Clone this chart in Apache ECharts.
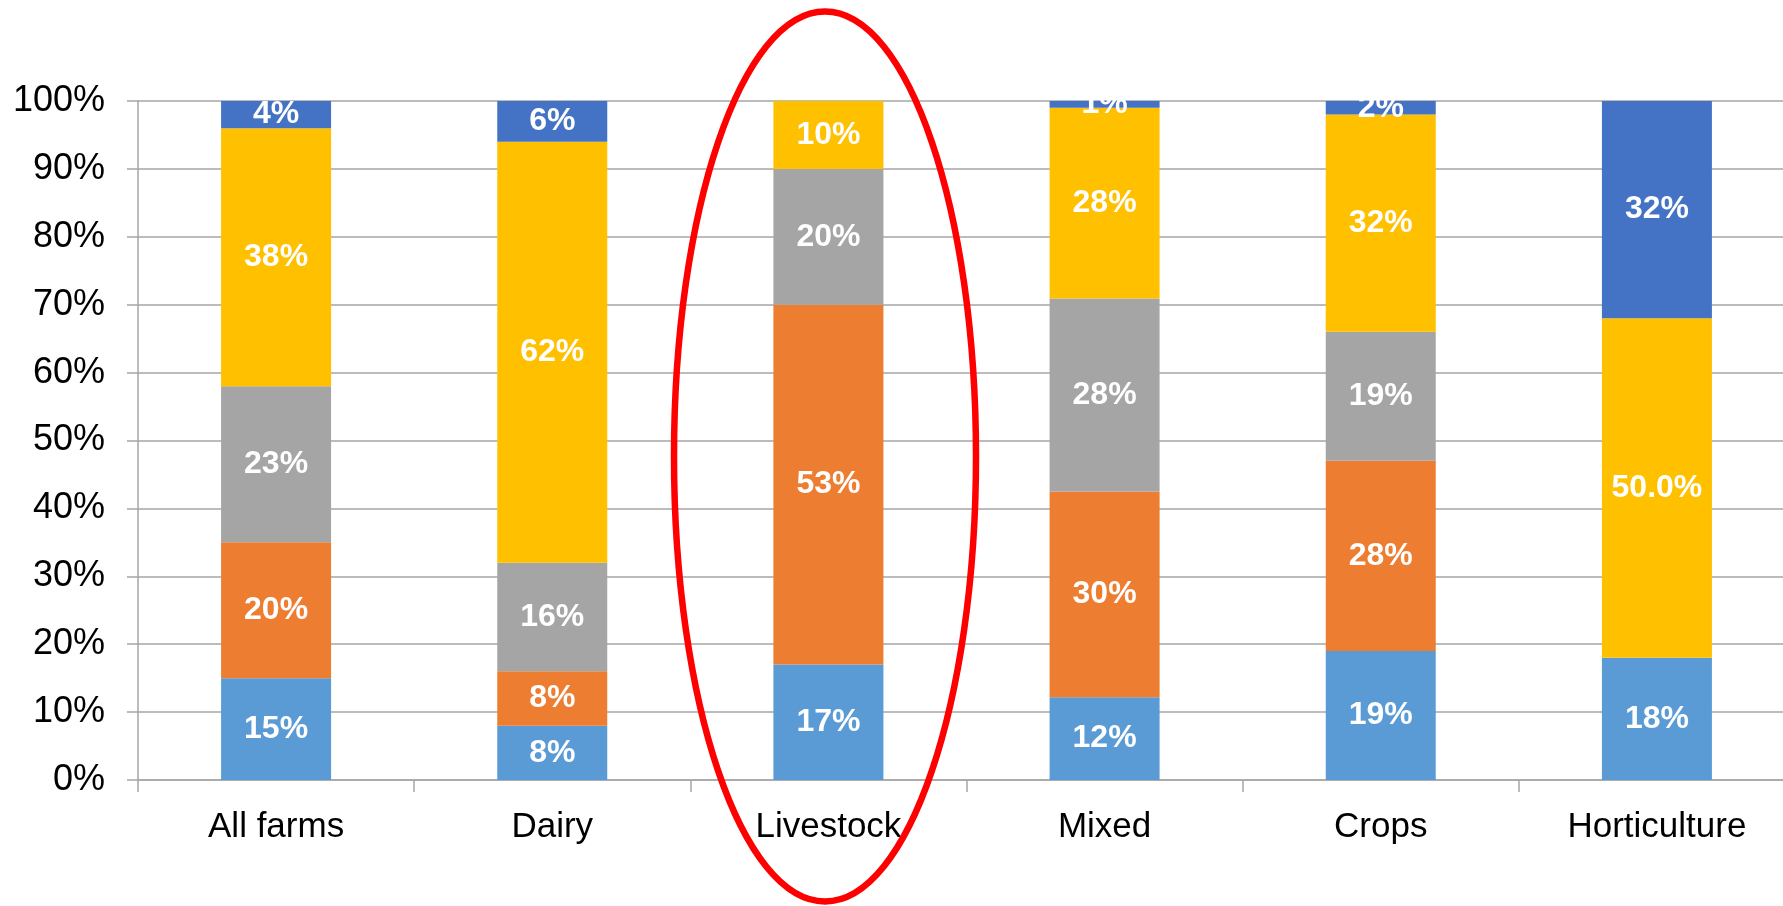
<!DOCTYPE html>
<html>
<head>
<meta charset="utf-8">
<script src="https://cdn.jsdelivr.net/npm/echarts@6/dist/echarts.min.js"></script>
<style>
html,body{margin:0;padding:0;background:#fff;overflow:hidden;width:1783px;height:906px;}
#chart{width:1800px;height:906px;}
</style>
</head>
<body>
<div id="chart"></div>
<script>
// ---- data ----
const categories = ['All farms', 'Dairy', 'Livestock', 'Mixed', 'Crops', 'Horticulture'];
const seriesLightBlue = [15, 8, 17, 12.2, 19, 18];
const seriesOrange    = [20, 8, 53, 30.3, 28, 0];
const seriesGray      = [23, 16, 20, 28.4, 19, 0];
const seriesYellow    = [38, 62, 10, 28.1, 32, 50];
const seriesDarkBlue  = [4, 6, 0, 1, 2, 32];
// decimals shown in data labels (per category)
const yellowLabelDecimals = [0, 0, 0, 0, 0, 1];
const yTicks = [0, 10, 20, 30, 40, 50, 60, 70, 80, 90, 100];

const colors = ['#5B9BD5', '#ED7D31', '#A5A5A5', '#FFC000', '#4472C4'];

function mkSeries(name, data, color, decimals) {
  return {
    name: name,
    type: 'bar',
    stack: 'total',
    barWidth: 110,
    data: data,
    itemStyle: { color: color },
    label: {
      show: true,
      position: 'inside',
      color: '#fff',
      fontWeight: 'bold',
      fontFamily: 'Liberation Sans',
      fontSize: 32,
      formatter: function (p) {
        if (!p.value) return '';
        const d = decimals ? decimals[p.dataIndex] : 0;
        return (d ? Number(p.value).toFixed(d) : Math.round(p.value)) + '%';
      }
    }
  };
}

const chart = echarts.init(document.getElementById('chart'), null, {renderer: 'canvas'});
chart.setOption({
  animation: false,
  backgroundColor: '#fff',
  grid: { left: 138, right: 5, top: 101, bottom: 126, containLabel: false },
  xAxis: {
    type: 'category',
    data: categories,
    axisLine: { lineStyle: { color: '#A6A6A6', width: 1.5 } },
    axisTick: { show: true, length: 12, interval: 0, lineStyle: { color: '#A6A6A6', width: 1.5 } },
    axisLabel: { color: '#000', fontSize: 35, fontFamily: 'Liberation Sans', margin: 30, interval: 0 }
  },
  yAxis: {
    type: 'value',
    min: yTicks[0],
    max: yTicks[yTicks.length - 1],
    interval: 10,
    axisLine: { show: true, lineStyle: { color: '#A6A6A6', width: 1.5 } },
    axisTick: { show: true, length: 11, lineStyle: { color: '#A6A6A6', width: 1.5 } },
    axisLabel: { color: '#000', fontSize: 36, fontFamily: 'Liberation Sans', margin: 33,
      formatter: '{value}%' },
    splitLine: { show: true, lineStyle: { color: '#A6A6A6', width: 1.5 } }
  },
  series: [
    mkSeries('s1', seriesLightBlue, colors[0]),
    mkSeries('s2', seriesOrange, colors[1]),
    mkSeries('s3', seriesGray, colors[2]),
    mkSeries('s4', seriesYellow, colors[3], yellowLabelDecimals),
    mkSeries('s5', seriesDarkBlue, colors[4])
  ],
  graphic: [{
    type: 'ellipse',
    z: 100,
    shape: { cx: 825, cy: 456.5, rx: 151, ry: 445 },
    style: { fill: 'none', stroke: '#FF0000', lineWidth: 6.5 }
  }]
});
</script>
</body>
</html>
